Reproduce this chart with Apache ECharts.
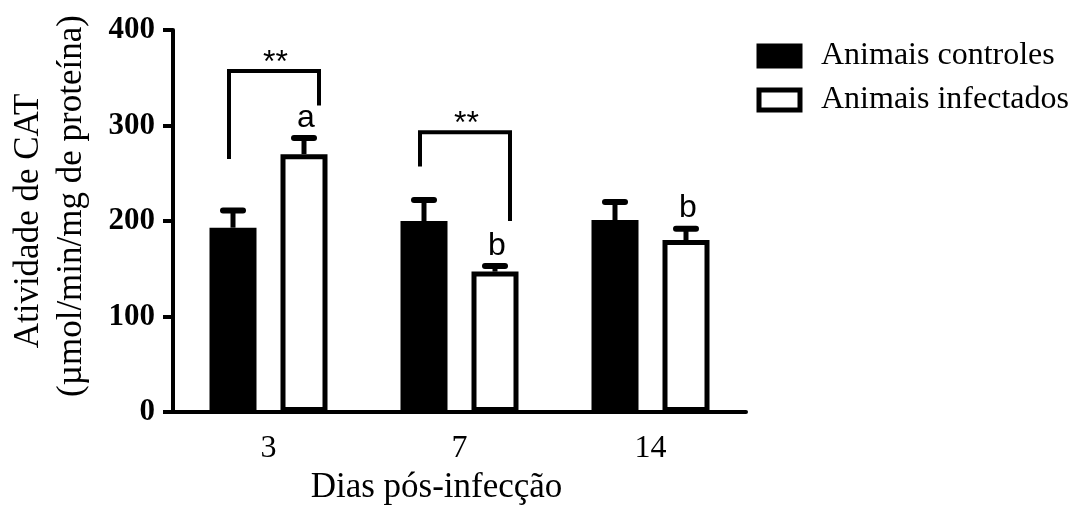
<!DOCTYPE html>
<html>
<head>
<meta charset="utf-8">
<script src="https://cdn.jsdelivr.net/npm/echarts@6/dist/echarts.min.js"></script>
<style>html,body{margin:0;padding:0;background:#fff;}#c{width:1072px;height:505px;}</style>
</head>
<body>
<div id="c"></div>
<script>
// ---- data ----
const categories = ['3', '7', '14'];
const controlMean = [193, 200, 201];
const controlErrTop = [211, 222, 220];
const infectedMean = [270, 147, 180];
const infectedErrTop = [287, 153, 192];
const infectedLetters = ['a', 'b', 'b'];
// significance brackets: [category index, top, left leg bottom, right leg bottom]
const bracketCats = [0, 1];
const bracketTop = [357, 293];
const bracketLeftBottom = [265, 257];
const bracketRightBottom = [321, 200];
const bracketLabel = ['**', '**'];
const yTicks = [0, 100, 200, 300, 400];
const yTitle1 = 'Atividade de CAT';
const yTitle2 = '(µmol/min/mg de proteína)';

const SERIF = '"Liberation Serif", "Times New Roman", serif';
const SANS = '"Liberation Sans", Arial, sans-serif';
const BAR_W = 47, BAR_GAP = 24;
const OFF = (BAR_W + BAR_GAP) / 2;

function errRender(offsetSign, letters) {
  return function (params, api) {
    const ci = api.value(0);
    const p0 = api.coord([ci, api.value(1)]);
    const p1 = api.coord([ci, api.value(2)]);
    const x = p0[0] + offsetSign * OFF;
    const children = [
      { type: 'line', shape: { x1: x, y1: p0[1], x2: x, y2: p1[1] }, style: { stroke: '#000', lineWidth: 5 } },
      { type: 'line', shape: { x1: x - 10, y1: p1[1], x2: x + 10, y2: p1[1] }, style: { stroke: '#000', lineWidth: 6, lineCap: 'round' } }
    ];
    if (letters) {
      children.push({ type: 'text', style: { text: letters[params.dataIndex], x: x + 2, y: p1[1] - 20, align: 'center', verticalAlign: 'middle', font: '32px ' + SANS, fill: '#000' } });
    }
    return { type: 'group', children: children };
  };
}

const chart = echarts.init(document.getElementById('c'), null, { renderer: 'canvas' });
chart.setOption({
  animation: false,
  backgroundColor: '#fff',
  grid: { left: 173, right: 326, top: 30, bottom: 93, containLabel: false, outerBoundsMode: 'none' },
  legend: {
    orient: 'vertical', left: 756.5, top: 40, padding: 0,
    itemWidth: 41, itemHeight: 20, itemGap: 12, icon: 'rect',
    textStyle: { fontFamily: SERIF, fontSize: 32, color: '#000', padding: [0, 0, 0, 16] },
    data: [
      { name: 'Animais controles', itemStyle: { color: '#000', borderColor: '#000', borderWidth: 5 } },
      { name: 'Animais infectados', itemStyle: { color: '#fff', borderColor: '#000', borderWidth: 5 } }
    ]
  },
  xAxis: {
    type: 'category', data: categories,
    name: 'Dias pós-infecção', nameLocation: 'middle', nameGap: 56,
    nameTextStyle: { fontFamily: SERIF, fontSize: 35, color: '#000', padding: [0, 46, 0, 0] },
    axisLine: { lineStyle: { color: '#000', width: 4 } },
    axisTick: { alignWithLabel: true, length: 10, lineStyle: { color: '#000', width: 4 } },
    axisLabel: { fontFamily: SERIF, fontSize: 32, color: '#000', margin: 21 }
  },
  yAxis: {
    type: 'value', min: yTicks[0], max: yTicks[yTicks.length - 1], interval: 100,
    name: '{l1|' + yTitle1 + '}\n{l2|' + yTitle2 + '}', nameLocation: 'middle', nameGap: 80, nameRotate: 90,
    nameTextStyle: {
      fontFamily: SERIF, fontSize: 35, color: '#000', lineHeight: 43,
      rich: {
        l1: { fontFamily: SERIF, fontSize: 35, color: '#000', lineHeight: 43 },
        l2: { fontFamily: SERIF, fontSize: 35, color: '#000', lineHeight: 43, padding: [0, 0, 0, 30] }
      }
    },
    splitLine: { show: false },
    axisLine: { show: true, lineStyle: { color: '#000', width: 4 } },
    axisTick: { show: true, length: 10, lineStyle: { color: '#000', width: 4 } },
    axisLabel: { fontFamily: SERIF, fontSize: 31, fontWeight: 'bold', color: '#000', margin: 18 }
  },
  series: [
    {
      name: 'Animais controles', type: 'bar', data: controlMean, barWidth: BAR_W, barGap: (BAR_GAP / BAR_W * 100) + '%',
      itemStyle: { color: '#000', borderColor: '#000', borderWidth: 5 }, z: 3
    },
    {
      name: 'Animais infectados', type: 'bar', data: infectedMean, barWidth: BAR_W,
      itemStyle: { color: '#fff', borderColor: '#000', borderWidth: 5 }, z: 3
    },
    {
      type: 'custom', name: 'errC', z: 2,
      data: categories.map((c, i) => [i, controlMean[i], controlErrTop[i]]),
      renderItem: errRender(-1, null)
    },
    {
      type: 'custom', name: 'errI', z: 2,
      data: categories.map((c, i) => [i, infectedMean[i], infectedErrTop[i]]),
      renderItem: errRender(1, infectedLetters)
    },
    {
      type: 'custom', name: 'brackets', z: 4,
      data: bracketCats.map((c, i) => [c, bracketTop[i], bracketLeftBottom[i], bracketRightBottom[i]]),
      renderItem: function (params, api) {
        const ci = api.value(0);
        const t = api.coord([ci, api.value(1)]);
        const lb = api.coord([ci, api.value(2)]);
        const rb = api.coord([ci, api.value(3)]);
        const xl = t[0] - OFF - 4, xr = t[0] + OFF + 15;
        return {
          type: 'group', children: [
            { type: 'polyline', shape: { points: [[xl, lb[1]], [xl, t[1]], [xr, t[1]], [xr, rb[1]]] }, style: { stroke: '#000', lineWidth: 4, fill: null } },
            { type: 'text', style: { text: bracketLabel[params.dataIndex], x: t[0] + 7, y: t[1] - 8, align: 'center', verticalAlign: 'middle', font: '32px ' + SANS, fill: '#000' } }
          ]
        };
      }
    }
  ]
});
</script>
</body>
</html>
